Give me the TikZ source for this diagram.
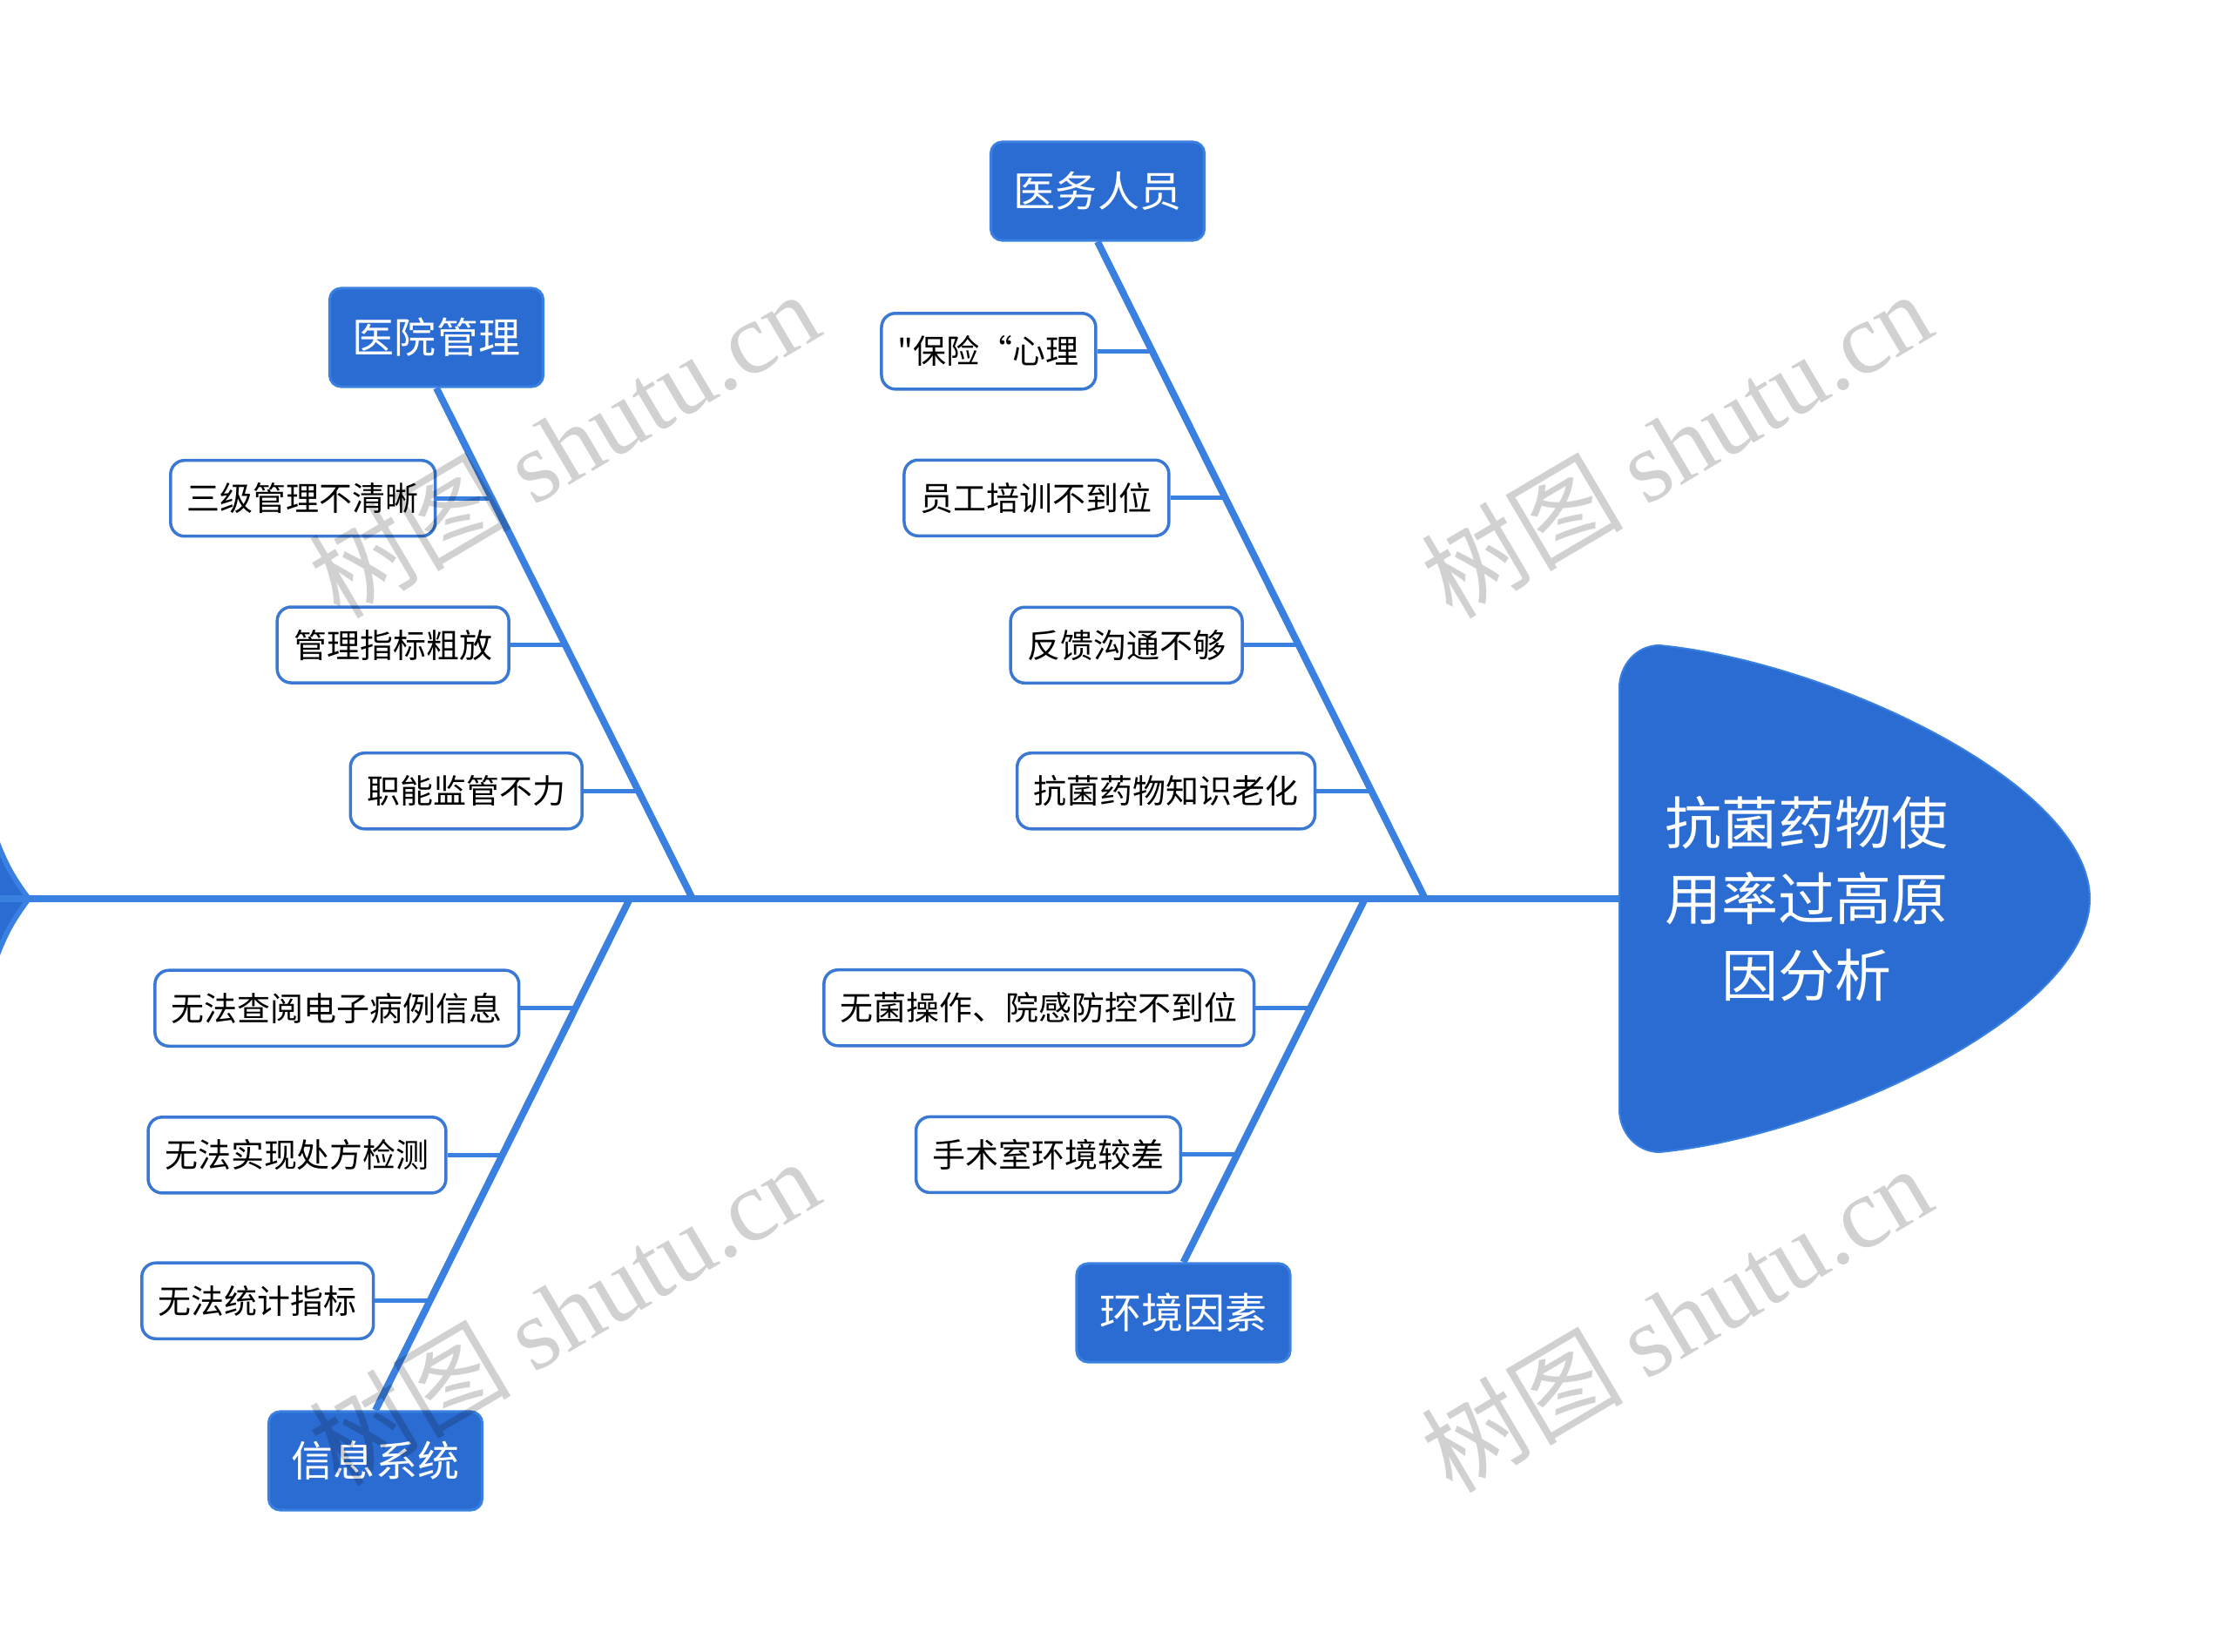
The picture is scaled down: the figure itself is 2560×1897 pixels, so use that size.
\documentclass[tikz,border=0pt]{standalone}
\usepackage{fontspec}
\setmainfont{Noto Sans CJK SC}[Ligatures=TeXOff]
\newfontfamily\wmserif{Liberation Serif}
\usetikzlibrary{positioning,calc}
\definecolor{fbfill}{HTML}{2B6CD2}
\definecolor{fbline}{HTML}{3A80E0}
\definecolor{fbleaf}{HTML}{3A78D4}

\tikzset{
  bone/.style={line width=0.08cm, draw=fbline},
  twig/.style={line width=0.05cm, draw=fbline},
  cause/.style={rectangle, rounded corners=0.13cm, draw=fbline, line width=0.03cm,
    fill=fbfill, text=white, minimum width=2.45cm, minimum height=1.13cm,
    inner sep=0pt, font=\fontsize{13.66pt}{16pt}\selectfont},
  leaf/.style={rectangle, rounded corners=0.16cm, draw=fbleaf, line width=0.035cm,
    fill=white, text=black, minimum height=0.87cm, inner xsep=0.19cm,
    inner ysep=0pt, font=\fontsize{10.8pt}{13pt}\selectfont},
  wmark/.style={rotate=30.6, text=black, text opacity=0.18,
    font=\fontsize{33pt}{38pt}\selectfont}
}

\begin{document}
\begin{tikzpicture}[x=0.01cm, y=-0.01cm]
\useasboundingbox (0,0) rectangle (2560,1897);

\coordinate (tailend) at (0,1032);
\coordinate (tail) at (33,1032);
\coordinate (headw) at (1859,1032);
\coordinate (jH) at (795,1032);
\coordinate (jI) at (723,1032);
\coordinate (jE) at (1567,1032);
\coordinate (jM) at (1636,1032);

\filldraw[fill=fbfill, draw=fbline, line width=0.06cm]
  (tail) to[bend left=8] (-4,965) -- (-4,1099) to[bend left=8] (tail) -- cycle;

\filldraw[fill=fbfill, draw=fbline, line width=0.02cm]
  (headw) -- (1859,790) to[out=90,in=180] (1905,741)
  .. controls (2100,760) and (2399,900) .. (2399,1032)
  .. controls (2399,1164) and (2100,1304) .. (1905,1323)
  to[out=180,in=-90] (1859,1274) -- cycle;
\node[text=white, align=center, font=\fontsize{18.5pt}{25pt}\selectfont]
  (head) at (2074,1032) {抗菌药物使\\用率过高原\\因分析};

\draw[bone] (tailend) -- (headw);

\node[cause] (staff) at (1260,219.5) {医务人员};
\node[cause] (mgmt) at (501,387.5) {医院管理};
\node[cause] (info) at (431,1677.5) {信息系统};
\node[cause] (env) at (1358.5,1507.5) {环境因素};

\draw[bone] (staff.south) -- (jM);
\draw[bone] (mgmt.south) -- (jH);
\draw[bone] (jI) -- (info.north);
\draw[bone] (jE) -- (env.north);

\coordinate (s1) at ($(staff.south)!0.1667!(jM)$);
\coordinate (s2) at ($(staff.south)!0.390!(jM)$);
\coordinate (s3) at ($(staff.south)!0.614!(jM)$);
\coordinate (s4) at ($(staff.south)!0.836!(jM)$);
\node[leaf, left=0.63cm of s1] (s1box) {"保险“心理};
\node[leaf, left=0.63cm of s2] (s2box) {员工培训不到位};
\node[leaf, left=0.63cm of s3] (s3box) {反馈沟通不够};
\node[leaf, left=0.63cm of s4] (s4box) {抗菌药物知识老化};
\draw[twig] (s1box.east) -- (s1);
\draw[twig] (s2box.east) -- (s2);
\draw[twig] (s3box.east) -- (s3);
\draw[twig] (s4box.east) -- (s4);

\coordinate (m1) at ($(mgmt.south)!0.216!(jH)$);
\coordinate (m2) at ($(mgmt.south)!0.503!(jH)$);
\coordinate (m3) at ($(mgmt.south)!0.789!(jH)$);
\node[leaf, left=0.63cm of m1] (m1box) {三级管理不清晰};
\node[leaf, left=0.63cm of m2] (m2box) {管理指标粗放};
\node[leaf, left=0.63cm of m3] (m3box) {职能监管不力};
\draw[twig] (m1box.east) -- (m1);
\draw[twig] (m2box.east) -- (m2);
\draw[twig] (m3box.east) -- (m3);

\coordinate (i1) at ($(jI)!0.214!(info.north)$);
\coordinate (i2) at ($(jI)!0.501!(info.north)$);
\coordinate (i3) at ($(jI)!0.786!(info.north)$);
\node[leaf, left=0.63cm of i1] (i1box) {无法查阅电子病例信息};
\node[leaf, left=0.63cm of i2] (i2box) {无法实现处方检测};
\node[leaf, left=0.63cm of i3] (i3box) {无法统计指标};
\draw[twig] (i1box.east) -- (i1);
\draw[twig] (i2box.east) -- (i2);
\draw[twig] (i3box.east) -- (i3);

\coordinate (e1) at ($(jE)!0.300!(env.north)$);
\coordinate (e2) at ($(jE)!0.704!(env.north)$);
\node[leaf, left=0.63cm of e1] (e1box) {无菌操作、院感防控不到位};
\node[leaf, left=0.63cm of e2] (e2box) {手术室环境较差};
\draw[twig] (e1box.east) -- (e1);
\draw[twig] (e2box.east) -- (e2);

\node[wmark] (wm1) at (647,510) {树图 {\wmserif shutu.cn}};
\node[wmark] (wm2) at (1924,510) {树图 {\wmserif shutu.cn}};
\node[wmark] (wm3) at (647,1506) {树图 {\wmserif shutu.cn}};
\node[wmark] (wm4) at (1924,1514) {树图 {\wmserif shutu.cn}};
\end{tikzpicture}
\end{document}
